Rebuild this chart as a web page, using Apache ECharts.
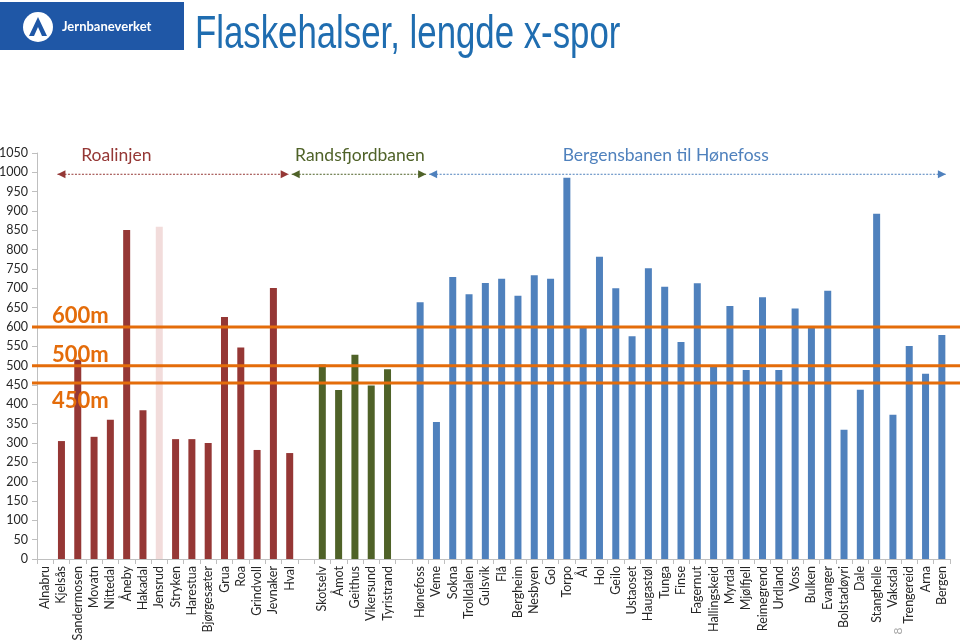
<!DOCTYPE html>
<html><head><meta charset="utf-8">
<script src="https://cdn.jsdelivr.net/npm/echarts@6/dist/echarts.min.js"></script>
<style>html,body{margin:0;padding:0;background:#fff}#main{width:960px;height:643px}</style>
</head><body><div id="main"></div>
<script>
// Roalinjen
const roaStations = ['Alnabru','Kjelsås','Sandermosen','Movatn','Nittedal','Åneby','Hakadal','Jensrud','Stryken','Harestua','Bjørgesæter','Grua','Roa','Grindvoll','Jevnaker','Hval'];
const roaValues   = [null,305,515,316,360,851,385,859,310,310,300,626,547,282,701,274];
// Randsfjordbanen
const randsStations = ['Skotselv','Åmot','Geithus','Vikersund','Tyristrand'];
const randsValues   = [503,437,528,449,491];
// Bergensbanen til Hønefoss
const bergStations = ['Hønefoss','Veme','Sokna','Trolldalen','Gulsvik','Flå','Bergheim','Nesbyen','Gol','Torpo','Ål','Hol','Geilo','Ustaoset','Haugastøl','Tunga','Finse','Fagernut','Hallingskeid','Myrdal','Mjølfjell','Reimegrend','Urdland','Voss','Bulken','Evanger','Bolstadøyri','Dale','Stanghelle','Vaksdal','Trengereid','Arna','Bergen'];
const bergValues   = [664,354,729,685,714,725,681,734,725,986,601,782,700,576,752,704,561,713,497,654,489,677,489,648,598,694,334,438,893,373,551,479,579];
// Reference lengths
const refLines = [600, 500, 455];
const refLabels = ['600m', '500m', '450m'];
const yTicks = {min: 0, max: 1050, interval: 50};
const highlighted = 'Jensrud';

const RED = '#953735', PINK = '#f2dcdb', GREEN = '#4f6228', BLUE = '#4f81bd', ORANGE = '#e46c0a';

const categories = [];
const barData = [];
function addGroup(names, vals, color) {
  names.forEach((n, i) => {
    categories.push(n);
    barData.push({value: vals[i], itemStyle: {color: n === highlighted ? PINK : color}});
  });
}
addGroup(roaStations, roaValues, RED);
categories.push(' '); barData.push(null);
addGroup(randsStations, randsValues, GREEN);
categories.push('  '); barData.push(null);
addGroup(bergStations, bergValues, BLUE);

const chart = echarts.init(document.getElementById('main'));
const txtFont = 'Lato, "Open Sans", sans-serif';
chart.setOption({
  animation: false,
  backgroundColor: '#fff',
  grid: {left: 37, right: 10, top: 153, bottom: 84, containLabel: false, outerBoundsMode: 'none'},
  xAxis: {
    type: 'category', data: categories,
    axisLine: {lineStyle: {color: '#bfbfbf'}},
    axisTick: {show: true, length: 5, lineStyle: {color: '#bfbfbf'}},
    axisLabel: {interval: 0, rotate: 90, fontSize: 12.5, color: '#262626', fontFamily: txtFont, margin: 7}
  },
  yAxis: {
    type: 'value', min: yTicks.min, max: yTicks.max, interval: yTicks.interval,
    axisLine: {show: true, lineStyle: {color: '#bfbfbf'}},
    axisTick: {show: true, length: 5, lineStyle: {color: '#bfbfbf'}},
    splitLine: {show: false},
    axisLabel: {fontSize: 12.5, color: '#262626', fontFamily: txtFont, margin: 9, formatter: v => String(v)}
  },
  series: [{type: 'bar', data: barData, barWidth: 7}]
});

function P(i, v) { return chart.convertToPixel({gridIndex: 0}, [i, v]); }
const g = [];
// logo
g.push({type: 'rect', shape: {x: 0, y: 2, width: 184, height: 48}, style: {fill: '#1f57a6'}, z: 10});
g.push({type: 'circle', shape: {cx: 38, cy: 27, r: 15}, style: {fill: '#fff'}, z: 11});
g.push({type: 'polygon', shape: {points: [[38, 17], [29, 36], [34, 36], [38, 27], [42, 36], [47, 36]]}, style: {fill: '#1f57a6'}, z: 12});
g.push({type: 'text', x: 62, y: 27, style: {text: 'Jernbaneverket', fill: '#fff', font: 'bold 13px Lato, sans-serif', textVerticalAlign: 'middle'}, z: 12});
// title
g.push({type: 'text', x: 195, y: 35, scaleX: 0.74, style: {text: 'Flaskehalser, lengde x-spor', fill: '#1f6db0', font: '47px "Liberation Sans", Arial, sans-serif', textVerticalAlign: 'middle'}, z: 12});

// reference lines
refLines.forEach((v, k) => {
  const y = P(0, v)[1];
  g.push({type: 'line', shape: {x1: 32, y1: y, x2: 960, y2: y}, style: {stroke: ORANGE, lineWidth: 3}, z: 20});
  const ly = k === 2 ? y + 18 : y - 11;
  g.push({type: 'text', x: 52, y: ly, style: {text: refLabels[k], fill: ORANGE, font: 'bold 22px ' + txtFont, textVerticalAlign: 'middle'}, z: 21});
});

// line annotations
const nRoa = roaStations.length, nRands = randsStations.length;
const iHval = nRoa - 1;
const iHon = nRoa + 1 + nRands + 1;
const iEnd = categories.length - 1;
const ay = P(0, 995)[1];
const ty = P(0, 1043)[1];
function arrow(x1, x2, color) {
  g.push({type: 'line', shape: {x1: x1, y1: ay, x2: x2, y2: ay}, style: {stroke: color, lineWidth: 1, lineDash: [2, 1.5]}, z: 15});
  g.push({type: 'polygon', shape: {points: [[x1, ay], [x1 + 8, ay - 4], [x1 + 8, ay + 4]]}, style: {fill: color}, z: 16});
  g.push({type: 'polygon', shape: {points: [[x2, ay], [x2 - 8, ay - 4], [x2 - 8, ay + 4]]}, style: {fill: color}, z: 16});
}
function label(text, x, color) {
  g.push({type: 'text', x: x, y: ty, style: {text: text, fill: color, font: '17.5px ' + txtFont, textAlign: 'center', textVerticalAlign: 'middle'}, z: 16});
}
const xK = P(1, 0)[0], xHval = P(iHval, 0)[0], xHon = P(iHon, 0)[0], xEnd = P(iEnd, 0)[0];
arrow(xK - 4, xHval - 1, RED);
arrow(xHval + 2, xHon + 6, GREEN);
arrow(xHon + 9, xEnd + 4, BLUE);
label('Roalinjen', P(4, 0)[0] + 6, RED);
label('Randsfjordbanen', P(iHval + 4, 0)[0] + 5, GREEN);
label('Bergensbanen til Hønefoss', P(iHon + 15, 0)[0] + 1, BLUE);
// slide number
g.push({type: 'text', x: 898, y: 631, rotation: Math.PI / 2, style: {text: '8', fill: '#a6a6a6', font: '12px ' + txtFont, textAlign: 'center', textVerticalAlign: 'middle'}, z: 30});

chart.setOption({graphic: g});
</script></body></html>
